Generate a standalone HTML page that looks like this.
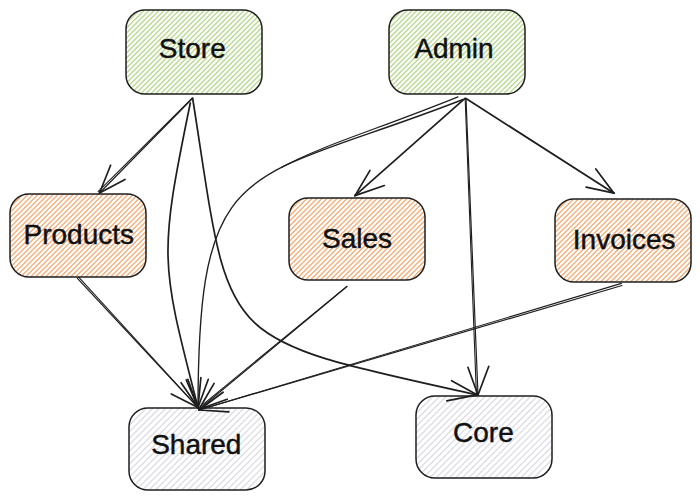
<!DOCTYPE html>
<html><head><meta charset="utf-8"><style>
html,body{margin:0;padding:0;background:#fff;width:700px;height:500px;overflow:hidden}
svg{display:block;font-family:"Liberation Sans",sans-serif}
</style></head><body>
<svg width="700" height="500" viewBox="0 0 700 500">
<defs>
</defs>
<rect width="700" height="500" fill="#fff"/>
<clipPath id="c0"><rect x="126" y="10" width="136" height="84" rx="19" ry="19"/></clipPath>
<path clip-path="url(#c0)" d="M124.50,10 L40.50,94 M129.50,10 L45.50,94 M134.50,10 L50.50,94 M139.50,10 L55.50,94 M144.50,10 L60.50,94 M149.50,10 L65.50,94 M154.50,10 L70.50,94 M159.50,10 L75.50,94 M164.50,10 L80.50,94 M169.50,10 L85.50,94 M174.50,10 L90.50,94 M179.50,10 L95.50,94 M184.50,10 L100.50,94 M189.50,10 L105.50,94 M194.50,10 L110.50,94 M199.50,10 L115.50,94 M204.50,10 L120.50,94 M209.50,10 L125.50,94 M214.50,10 L130.50,94 M219.50,10 L135.50,94 M224.50,10 L140.50,94 M229.50,10 L145.50,94 M234.50,10 L150.50,94 M239.50,10 L155.50,94 M244.50,10 L160.50,94 M249.50,10 L165.50,94 M254.50,10 L170.50,94 M259.50,10 L175.50,94 M264.50,10 L180.50,94 M269.50,10 L185.50,94 M274.50,10 L190.50,94 M279.50,10 L195.50,94 M284.50,10 L200.50,94 M289.50,10 L205.50,94 M294.50,10 L210.50,94 M299.50,10 L215.50,94 M304.50,10 L220.50,94 M309.50,10 L225.50,94 M314.50,10 L230.50,94 M319.50,10 L235.50,94 M324.50,10 L240.50,94 M329.50,10 L245.50,94 M334.50,10 L250.50,94 M339.50,10 L255.50,94 M344.50,10 L260.50,94 M349.50,10 L265.50,94" stroke="#badb94" stroke-width="1.4" fill="none"/>
<rect x="126" y="10" width="136" height="84" rx="19" ry="19" fill="none" stroke="#1e1e1e" stroke-width="1.5"/>
<text x="192.3" y="58.2" text-anchor="middle" font-family="Liberation Sans" font-size="28" fill="#111" stroke="#111" stroke-width="0.45">Store</text>
<clipPath id="c1"><rect x="389" y="10" width="136" height="84" rx="19" ry="19"/></clipPath>
<path clip-path="url(#c1)" d="M387.50,10 L303.50,94 M392.50,10 L308.50,94 M397.50,10 L313.50,94 M402.50,10 L318.50,94 M407.50,10 L323.50,94 M412.50,10 L328.50,94 M417.50,10 L333.50,94 M422.50,10 L338.50,94 M427.50,10 L343.50,94 M432.50,10 L348.50,94 M437.50,10 L353.50,94 M442.50,10 L358.50,94 M447.50,10 L363.50,94 M452.50,10 L368.50,94 M457.50,10 L373.50,94 M462.50,10 L378.50,94 M467.50,10 L383.50,94 M472.50,10 L388.50,94 M477.50,10 L393.50,94 M482.50,10 L398.50,94 M487.50,10 L403.50,94 M492.50,10 L408.50,94 M497.50,10 L413.50,94 M502.50,10 L418.50,94 M507.50,10 L423.50,94 M512.50,10 L428.50,94 M517.50,10 L433.50,94 M522.50,10 L438.50,94 M527.50,10 L443.50,94 M532.50,10 L448.50,94 M537.50,10 L453.50,94 M542.50,10 L458.50,94 M547.50,10 L463.50,94 M552.50,10 L468.50,94 M557.50,10 L473.50,94 M562.50,10 L478.50,94 M567.50,10 L483.50,94 M572.50,10 L488.50,94 M577.50,10 L493.50,94 M582.50,10 L498.50,94 M587.50,10 L503.50,94 M592.50,10 L508.50,94 M597.50,10 L513.50,94 M602.50,10 L518.50,94 M607.50,10 L523.50,94 M612.50,10 L528.50,94" stroke="#badb94" stroke-width="1.4" fill="none"/>
<rect x="389" y="10" width="136" height="84" rx="19" ry="19" fill="none" stroke="#1e1e1e" stroke-width="1.5"/>
<text x="453.9" y="57.6" text-anchor="middle" font-family="Liberation Sans" font-size="28" fill="#111" stroke="#111" stroke-width="0.45">Admin</text>
<clipPath id="c2"><rect x="10" y="194" width="136" height="83" rx="19" ry="19"/></clipPath>
<path clip-path="url(#c2)" d="M8.50,194 L-74.50,277 M13.50,194 L-69.50,277 M18.50,194 L-64.50,277 M23.50,194 L-59.50,277 M28.50,194 L-54.50,277 M33.50,194 L-49.50,277 M38.50,194 L-44.50,277 M43.50,194 L-39.50,277 M48.50,194 L-34.50,277 M53.50,194 L-29.50,277 M58.50,194 L-24.50,277 M63.50,194 L-19.50,277 M68.50,194 L-14.50,277 M73.50,194 L-9.50,277 M78.50,194 L-4.50,277 M83.50,194 L0.50,277 M88.50,194 L5.50,277 M93.50,194 L10.50,277 M98.50,194 L15.50,277 M103.50,194 L20.50,277 M108.50,194 L25.50,277 M113.50,194 L30.50,277 M118.50,194 L35.50,277 M123.50,194 L40.50,277 M128.50,194 L45.50,277 M133.50,194 L50.50,277 M138.50,194 L55.50,277 M143.50,194 L60.50,277 M148.50,194 L65.50,277 M153.50,194 L70.50,277 M158.50,194 L75.50,277 M163.50,194 L80.50,277 M168.50,194 L85.50,277 M173.50,194 L90.50,277 M178.50,194 L95.50,277 M183.50,194 L100.50,277 M188.50,194 L105.50,277 M193.50,194 L110.50,277 M198.50,194 L115.50,277 M203.50,194 L120.50,277 M208.50,194 L125.50,277 M213.50,194 L130.50,277 M218.50,194 L135.50,277 M223.50,194 L140.50,277 M228.50,194 L145.50,277 M233.50,194 L150.50,277" stroke="#f3b07e" stroke-width="1.4" fill="none"/>
<rect x="10" y="194" width="136" height="83" rx="19" ry="19" fill="none" stroke="#1e1e1e" stroke-width="1.5"/>
<text x="78.8" y="244.4" text-anchor="middle" font-family="Liberation Sans" font-size="28" fill="#111" stroke="#111" stroke-width="0.45">Products</text>
<clipPath id="c3"><rect x="289" y="198" width="136" height="82" rx="19" ry="19"/></clipPath>
<path clip-path="url(#c3)" d="M287.50,198 L205.50,280 M292.50,198 L210.50,280 M297.50,198 L215.50,280 M302.50,198 L220.50,280 M307.50,198 L225.50,280 M312.50,198 L230.50,280 M317.50,198 L235.50,280 M322.50,198 L240.50,280 M327.50,198 L245.50,280 M332.50,198 L250.50,280 M337.50,198 L255.50,280 M342.50,198 L260.50,280 M347.50,198 L265.50,280 M352.50,198 L270.50,280 M357.50,198 L275.50,280 M362.50,198 L280.50,280 M367.50,198 L285.50,280 M372.50,198 L290.50,280 M377.50,198 L295.50,280 M382.50,198 L300.50,280 M387.50,198 L305.50,280 M392.50,198 L310.50,280 M397.50,198 L315.50,280 M402.50,198 L320.50,280 M407.50,198 L325.50,280 M412.50,198 L330.50,280 M417.50,198 L335.50,280 M422.50,198 L340.50,280 M427.50,198 L345.50,280 M432.50,198 L350.50,280 M437.50,198 L355.50,280 M442.50,198 L360.50,280 M447.50,198 L365.50,280 M452.50,198 L370.50,280 M457.50,198 L375.50,280 M462.50,198 L380.50,280 M467.50,198 L385.50,280 M472.50,198 L390.50,280 M477.50,198 L395.50,280 M482.50,198 L400.50,280 M487.50,198 L405.50,280 M492.50,198 L410.50,280 M497.50,198 L415.50,280 M502.50,198 L420.50,280 M507.50,198 L425.50,280" stroke="#f3b07e" stroke-width="1.4" fill="none"/>
<rect x="289" y="198" width="136" height="82" rx="19" ry="19" fill="none" stroke="#1e1e1e" stroke-width="1.5"/>
<text x="357.1" y="247.9" text-anchor="middle" font-family="Liberation Sans" font-size="28" fill="#111" stroke="#111" stroke-width="0.45">Sales</text>
<clipPath id="c4"><rect x="555" y="199" width="136" height="83" rx="19" ry="19"/></clipPath>
<path clip-path="url(#c4)" d="M553.50,199 L470.50,282 M558.50,199 L475.50,282 M563.50,199 L480.50,282 M568.50,199 L485.50,282 M573.50,199 L490.50,282 M578.50,199 L495.50,282 M583.50,199 L500.50,282 M588.50,199 L505.50,282 M593.50,199 L510.50,282 M598.50,199 L515.50,282 M603.50,199 L520.50,282 M608.50,199 L525.50,282 M613.50,199 L530.50,282 M618.50,199 L535.50,282 M623.50,199 L540.50,282 M628.50,199 L545.50,282 M633.50,199 L550.50,282 M638.50,199 L555.50,282 M643.50,199 L560.50,282 M648.50,199 L565.50,282 M653.50,199 L570.50,282 M658.50,199 L575.50,282 M663.50,199 L580.50,282 M668.50,199 L585.50,282 M673.50,199 L590.50,282 M678.50,199 L595.50,282 M683.50,199 L600.50,282 M688.50,199 L605.50,282 M693.50,199 L610.50,282 M698.50,199 L615.50,282 M703.50,199 L620.50,282 M708.50,199 L625.50,282 M713.50,199 L630.50,282 M718.50,199 L635.50,282 M723.50,199 L640.50,282 M728.50,199 L645.50,282 M733.50,199 L650.50,282 M738.50,199 L655.50,282 M743.50,199 L660.50,282 M748.50,199 L665.50,282 M753.50,199 L670.50,282 M758.50,199 L675.50,282 M763.50,199 L680.50,282 M768.50,199 L685.50,282 M773.50,199 L690.50,282 M778.50,199 L695.50,282" stroke="#f3b07e" stroke-width="1.4" fill="none"/>
<rect x="555" y="199" width="136" height="83" rx="19" ry="19" fill="none" stroke="#1e1e1e" stroke-width="1.5"/>
<text x="624.2" y="248.9" text-anchor="middle" font-family="Liberation Sans" font-size="28" fill="#111" stroke="#111" stroke-width="0.45">Invoices</text>
<clipPath id="c5"><rect x="129" y="408" width="136" height="82" rx="19" ry="19"/></clipPath>
<path clip-path="url(#c5)" d="M127.05,408 L45.05,490 M133.55,408 L51.55,490 M140.05,408 L58.05,490 M146.55,408 L64.55,490 M153.05,408 L71.05,490 M159.55,408 L77.55,490 M166.05,408 L84.05,490 M172.55,408 L90.55,490 M179.05,408 L97.05,490 M185.55,408 L103.55,490 M192.05,408 L110.05,490 M198.55,408 L116.55,490 M205.05,408 L123.05,490 M211.55,408 L129.55,490 M218.05,408 L136.05,490 M224.55,408 L142.55,490 M231.05,408 L149.05,490 M237.55,408 L155.55,490 M244.05,408 L162.05,490 M250.55,408 L168.55,490 M257.05,408 L175.05,490 M263.55,408 L181.55,490 M270.05,408 L188.05,490 M276.55,408 L194.55,490 M283.05,408 L201.05,490 M289.55,408 L207.55,490 M296.05,408 L214.05,490 M302.55,408 L220.55,490 M309.05,408 L227.05,490 M315.55,408 L233.55,490 M322.05,408 L240.05,490 M328.55,408 L246.55,490 M335.05,408 L253.05,490 M341.55,408 L259.55,490 M348.05,408 L266.05,490" stroke="#e0dee6" stroke-width="1.5" fill="none"/>
<rect x="129" y="408" width="136" height="82" rx="19" ry="19" fill="none" stroke="#1e1e1e" stroke-width="1.5"/>
<text x="196.3" y="454.3" text-anchor="middle" font-family="Liberation Sans" font-size="28" fill="#111" stroke="#111" stroke-width="0.45">Shared</text>
<clipPath id="c6"><rect x="416" y="396" width="136" height="82" rx="19" ry="19"/></clipPath>
<path clip-path="url(#c6)" d="M414.05,396 L332.05,478 M420.55,396 L338.55,478 M427.05,396 L345.05,478 M433.55,396 L351.55,478 M440.05,396 L358.05,478 M446.55,396 L364.55,478 M453.05,396 L371.05,478 M459.55,396 L377.55,478 M466.05,396 L384.05,478 M472.55,396 L390.55,478 M479.05,396 L397.05,478 M485.55,396 L403.55,478 M492.05,396 L410.05,478 M498.55,396 L416.55,478 M505.05,396 L423.05,478 M511.55,396 L429.55,478 M518.05,396 L436.05,478 M524.55,396 L442.55,478 M531.05,396 L449.05,478 M537.55,396 L455.55,478 M544.05,396 L462.05,478 M550.55,396 L468.55,478 M557.05,396 L475.05,478 M563.55,396 L481.55,478 M570.05,396 L488.05,478 M576.55,396 L494.55,478 M583.05,396 L501.05,478 M589.55,396 L507.55,478 M596.05,396 L514.05,478 M602.55,396 L520.55,478 M609.05,396 L527.05,478 M615.55,396 L533.55,478 M622.05,396 L540.05,478 M628.55,396 L546.55,478 M635.05,396 L553.05,478" stroke="#e0dee6" stroke-width="1.5" fill="none"/>
<rect x="416" y="396" width="136" height="82" rx="19" ry="19" fill="none" stroke="#1e1e1e" stroke-width="1.5"/>
<text x="483.4" y="442.4" text-anchor="middle" font-family="Liberation Sans" font-size="28" fill="#111" stroke="#111" stroke-width="0.45">Core</text>
<path d="M192.4,98.5 L99.5,193.0" fill="none" stroke="#1e1e1e" stroke-width="1.19" stroke-linecap="round"/>
<path d="M192.1,98.2 L98.1,191.6" fill="none" stroke="#1e1e1e" stroke-width="1.10" stroke-linecap="round"/>
<path d="M99.5,193.0 L110.6,165.2" fill="none" stroke="#1e1e1e" stroke-width="1.70" stroke-linecap="round"/>
<path d="M99.5,193.0 L125.0,179.4" fill="none" stroke="#1e1e1e" stroke-width="1.70" stroke-linecap="round"/>
<path d="M190.3,103.0 C158.3,258.4 160.5,261.4 198.0,407.5" fill="none" stroke="#1e1e1e" stroke-width="1.70" stroke-linecap="round"/>
<path d="M198.0,407.5 L181.1,382.7" fill="none" stroke="#1e1e1e" stroke-width="1.70" stroke-linecap="round"/>
<path d="M198.0,407.5 L200.9,377.6" fill="none" stroke="#1e1e1e" stroke-width="1.70" stroke-linecap="round"/>
<path d="M192.6,98.0 C232.0,346.9 210.4,336.1 477.0,394.8" fill="none" stroke="#1e1e1e" stroke-width="1.70" stroke-linecap="round"/>
<path d="M477.0,394.8 L451.6,380.7" fill="none" stroke="#1e1e1e" stroke-width="1.70" stroke-linecap="round"/>
<path d="M477.0,394.8 L446.8,400.9" fill="none" stroke="#1e1e1e" stroke-width="1.70" stroke-linecap="round"/>
<path d="M463.0,99.5 C243.8,184.8 198.4,150.6 198.0,407.5" fill="none" stroke="#1e1e1e" stroke-width="1.35" stroke-linecap="round"/>
<path d="M458.0,96.9 C378.7,129.1 321.0,145.6 281.3,167.5" fill="none" stroke="#1e1e1e" stroke-width="1.15" stroke-linecap="round"/>
<path d="M198.0,407.5 L187.8,379.3" fill="none" stroke="#1e1e1e" stroke-width="1.70" stroke-linecap="round"/>
<path d="M198.0,407.5 L208.3,379.3" fill="none" stroke="#1e1e1e" stroke-width="1.70" stroke-linecap="round"/>
<path d="M465.0,98.4 L355.0,195.6" fill="none" stroke="#1e1e1e" stroke-width="1.70" stroke-linecap="round"/>
<path d="M355.0,195.6 L370.0,170.4" fill="none" stroke="#1e1e1e" stroke-width="1.70" stroke-linecap="round"/>
<path d="M355.0,195.6 L384.4,185.5" fill="none" stroke="#1e1e1e" stroke-width="1.70" stroke-linecap="round"/>
<path d="M466.0,98.5 L614.0,193.2" fill="none" stroke="#1e1e1e" stroke-width="1.70" stroke-linecap="round"/>
<path d="M614.0,193.2 L595.8,168.9" fill="none" stroke="#1e1e1e" stroke-width="1.70" stroke-linecap="round"/>
<path d="M614.0,193.2 L586.1,187.1" fill="none" stroke="#1e1e1e" stroke-width="1.70" stroke-linecap="round"/>
<path d="M466.0,99.0 L478.0,395.0" fill="none" stroke="#1e1e1e" stroke-width="1.19" stroke-linecap="round"/>
<path d="M465.2,99.0 L476.4,395.1" fill="none" stroke="#1e1e1e" stroke-width="1.10" stroke-linecap="round"/>
<path d="M478.0,395.0 L467.9,367.3" fill="none" stroke="#1e1e1e" stroke-width="1.70" stroke-linecap="round"/>
<path d="M478.0,395.0 L488.8,366.3" fill="none" stroke="#1e1e1e" stroke-width="1.70" stroke-linecap="round"/>
<path d="M77.4,278.4 L198.0,407.5" fill="none" stroke="#1e1e1e" stroke-width="1.19" stroke-linecap="round"/>
<path d="M78.7,277.2 L198.0,407.5" fill="none" stroke="#1e1e1e" stroke-width="1.10" stroke-linecap="round"/>
<path d="M198.0,407.5 L171.3,393.9" fill="none" stroke="#1e1e1e" stroke-width="1.70" stroke-linecap="round"/>
<path d="M198.0,407.5 L186.3,379.9" fill="none" stroke="#1e1e1e" stroke-width="1.70" stroke-linecap="round"/>
<path d="M347.0,286.5 L199.0,409.3" fill="none" stroke="#1e1e1e" stroke-width="1.19" stroke-linecap="round"/>
<path d="M346.8,286.3 L198.2,408.4" fill="none" stroke="#1e1e1e" stroke-width="1.10" stroke-linecap="round"/>
<path d="M199.0,409.3 L214.1,383.4" fill="none" stroke="#1e1e1e" stroke-width="1.70" stroke-linecap="round"/>
<path d="M199.0,409.3 L227.2,399.2" fill="none" stroke="#1e1e1e" stroke-width="1.70" stroke-linecap="round"/>
<path d="M622.0,285.5 L199.0,410.0" fill="none" stroke="#1e1e1e" stroke-width="1.19" stroke-linecap="round"/>
<path d="M621.4,283.4 L199.0,410.0" fill="none" stroke="#1e1e1e" stroke-width="1.10" stroke-linecap="round"/>
<path d="M199.0,410.0 L223.1,392.2" fill="none" stroke="#1e1e1e" stroke-width="1.70" stroke-linecap="round"/>
<path d="M199.0,410.0 L228.9,411.9" fill="none" stroke="#1e1e1e" stroke-width="1.70" stroke-linecap="round"/>
</svg>
</body></html>
